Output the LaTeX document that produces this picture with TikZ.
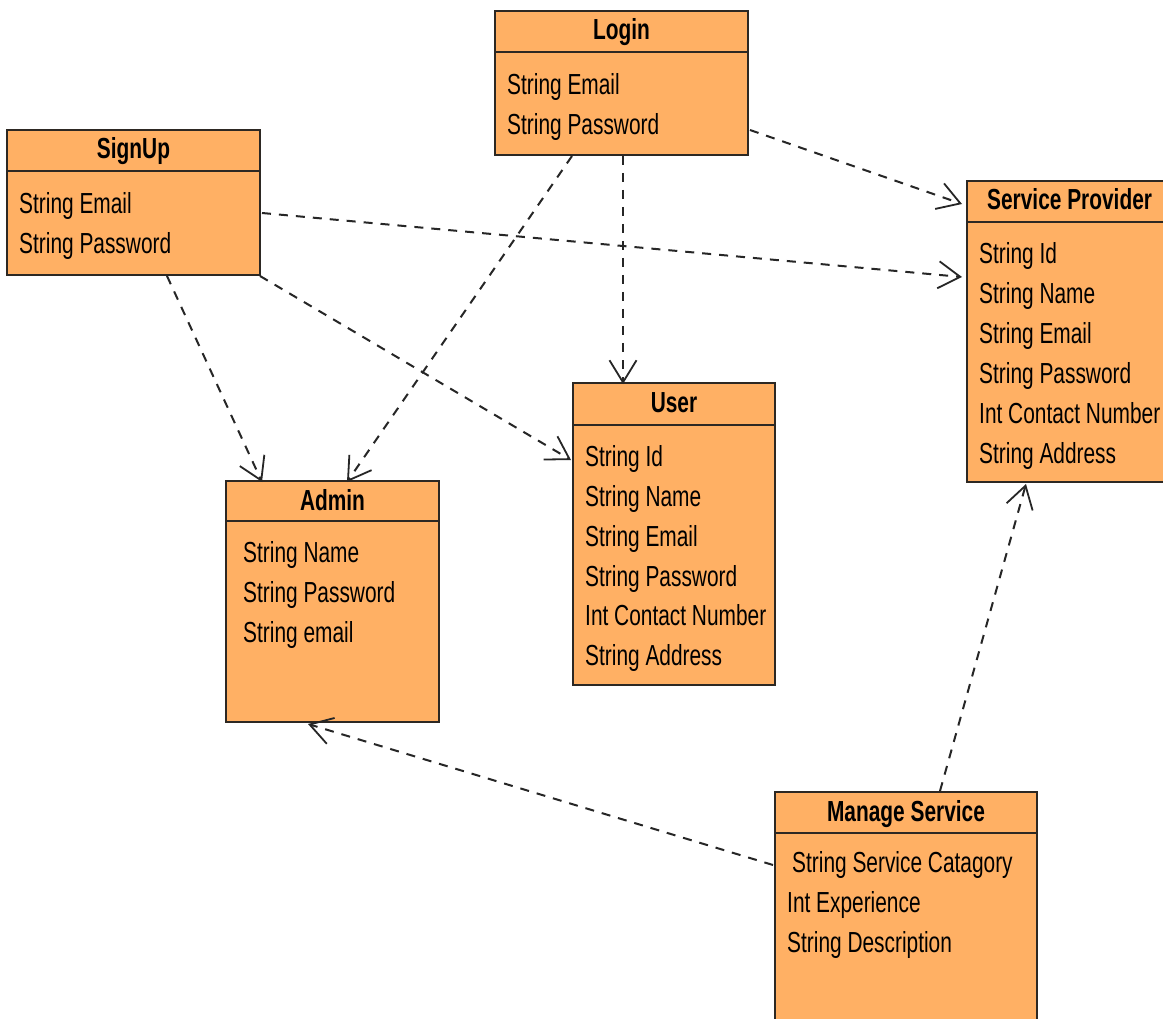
\documentclass[tikz,border=0pt]{standalone}
\usepackage{fontspec}
\setmainfont{Liberation Sans}[FakeStretch=0.72]
\usetikzlibrary{arrows.meta}

\definecolor{classfill}{RGB}{255,176,100}
\definecolor{classline}{RGB}{45,40,35}

\tikzset{
  classbox/.style={draw=classline, line width=2pt, fill=classfill,
    rectangle, inner sep=0pt, outer sep=0pt, anchor=north west},
  sepline/.style={draw=classline, line width=2pt},
  classtitle/.style={anchor=base, inner sep=0pt,
    font=\fontsize{29}{35}\selectfont\bfseries},
  attr/.style={anchor=base west, inner sep=0pt,
    font=\fontsize{29}{35}\selectfont},
  dep/.style={draw=black!85, line width=2pt, dash pattern=on 9pt off 8pt,
    -{Straight Barb[length=22pt,width=27pt,line width=1.8pt]}}
}

\begin{document}
\begin{tikzpicture}[x=1pt,y=-1pt]
\clip (0,0) rectangle (1163,1019);
\fill[white] (0,0) rectangle (1163,1019);

% ---------- Login ----------
\node[classbox, minimum width=253pt, minimum height=144pt] (login) at (495,11) {};
\draw[sepline] ([yshift=-41pt]login.north west) -- ([yshift=-41pt]login.north east);
\node[classtitle] (loginT) at ([yshift=-29pt]login.north) {Login};
\node[attr] (loginA1) at ([xshift=12pt,yshift=-84pt]login.north west) {String Email};
\node[attr] (loginA2) at ([xshift=12pt,yshift=-124pt]login.north west) {String Password};

% ---------- SignUp ----------
\node[classbox, minimum width=253pt, minimum height=145pt] (signup) at (7,130) {};
\draw[sepline] ([yshift=-41pt]signup.north west) -- ([yshift=-41pt]signup.north east);
\node[classtitle] (signupT) at ([yshift=-29pt]signup.north) {SignUp};
\node[attr] (signupA1) at ([xshift=12pt,yshift=-84pt]signup.north west) {String Email};
\node[attr] (signupA2) at ([xshift=12pt,yshift=-124pt]signup.north west) {String Password};

% ---------- Service Provider ----------
\node[classbox, minimum width=200pt, minimum height=301pt] (sp) at (967,181) {};
\draw[sepline] ([yshift=-41pt]sp.north west) -- ([yshift=-41pt]sp.north east);
\node[classtitle, anchor=base west] (spT) at ([xshift=20pt,yshift=-29pt]sp.north west) {Service Provider};
\node[attr] (spA1) at ([xshift=12pt,yshift=-83pt]sp.north west) {String Id};
\node[attr] (spA2) at ([xshift=12pt,yshift=-123pt]sp.north west) {String Name};
\node[attr] (spA3) at ([xshift=12pt,yshift=-163pt]sp.north west) {String Email};
\node[attr] (spA4) at ([xshift=12pt,yshift=-203pt]sp.north west) {String Password};
\node[attr] (spA5) at ([xshift=12pt,yshift=-242pt]sp.north west) {Int Contact Number};
\node[attr] (spA6) at ([xshift=12pt,yshift=-282pt]sp.north west) {String Address};

% ---------- User ----------
\node[classbox, minimum width=202pt, minimum height=302pt] (user) at (573,383) {};
\draw[sepline] ([yshift=-42pt]user.north west) -- ([yshift=-42pt]user.north east);
\node[classtitle] (userT) at ([yshift=-29pt]user.north) {User};
\node[attr] (userA1) at ([xshift=12pt,yshift=-83pt]user.north west) {String Id};
\node[attr] (userA2) at ([xshift=12pt,yshift=-123pt]user.north west) {String Name};
\node[attr] (userA3) at ([xshift=12pt,yshift=-163pt]user.north west) {String Email};
\node[attr] (userA4) at ([xshift=12pt,yshift=-203pt]user.north west) {String Password};
\node[attr] (userA5) at ([xshift=12pt,yshift=-242pt]user.north west) {Int Contact Number};
\node[attr] (userA6) at ([xshift=12pt,yshift=-282pt]user.north west) {String Address};

% ---------- Admin ----------
\node[classbox, minimum width=213pt, minimum height=241pt] (admin) at (226,481) {};
\draw[sepline] ([yshift=-40pt]admin.north west) -- ([yshift=-40pt]admin.north east);
\node[classtitle] (adminT) at ([yshift=-29pt]admin.north) {Admin};
\node[attr] (adminA1) at ([xshift=17pt,yshift=-81pt]admin.north west) {String Name};
\node[attr] (adminA2) at ([xshift=17pt,yshift=-121pt]admin.north west) {String Password};
\node[attr] (adminA3) at ([xshift=17pt,yshift=-161pt]admin.north west) {String email};

% ---------- Manage Service ----------
\node[classbox, minimum width=262pt, minimum height=240pt] (ms) at (775,792) {};
\draw[sepline] ([yshift=-41pt]ms.north west) -- ([yshift=-41pt]ms.north east);
\node[classtitle] (msT) at ([yshift=-29pt]ms.north) {Manage Service};
\node[attr] (msA1) at ([xshift=17pt,yshift=-80pt]ms.north west) {String Service Catagory};
\node[attr] (msA2) at ([xshift=12pt,yshift=-120pt]ms.north west) {Int Experience};
\node[attr] (msA3) at ([xshift=12pt,yshift=-160pt]ms.north west) {String Description};

% ---------- dependencies ----------
\draw[dep] ([xshift=2pt,yshift=25pt]login.south east) -- ([xshift=-5pt,yshift=-23pt]sp.north west);
\draw[dep] ([xshift=2pt,yshift=62pt]signup.south east) -- ([xshift=-5pt,yshift=-96pt]sp.north west);
\draw[dep] ([xshift=160pt,yshift=-1pt]signup.south west) -- ([xshift=36pt,yshift=-1pt]admin.north west);
\draw[dep] ([xshift=77pt,yshift=-1pt]login.south west) -- ([xshift=121pt,yshift=-1pt]admin.north west);
\draw[dep] ([xshift=0pt,yshift=-1pt]signup.south east) -- ([xshift=-2pt,yshift=-77pt]user.north west);
\draw[dep] ([xshift=128pt,yshift=-1pt]login.south west) -- ([xshift=50pt,yshift=-1pt]user.north west);
\draw[dep] ([xshift=-2pt,yshift=-73pt]ms.north west) -- ([xshift=82pt,yshift=-2pt]admin.south west);
\draw[dep] ([xshift=165pt,yshift=1pt]ms.north west) -- ([xshift=59pt,yshift=-2pt]sp.south west);
\end{tikzpicture}
\end{document}
